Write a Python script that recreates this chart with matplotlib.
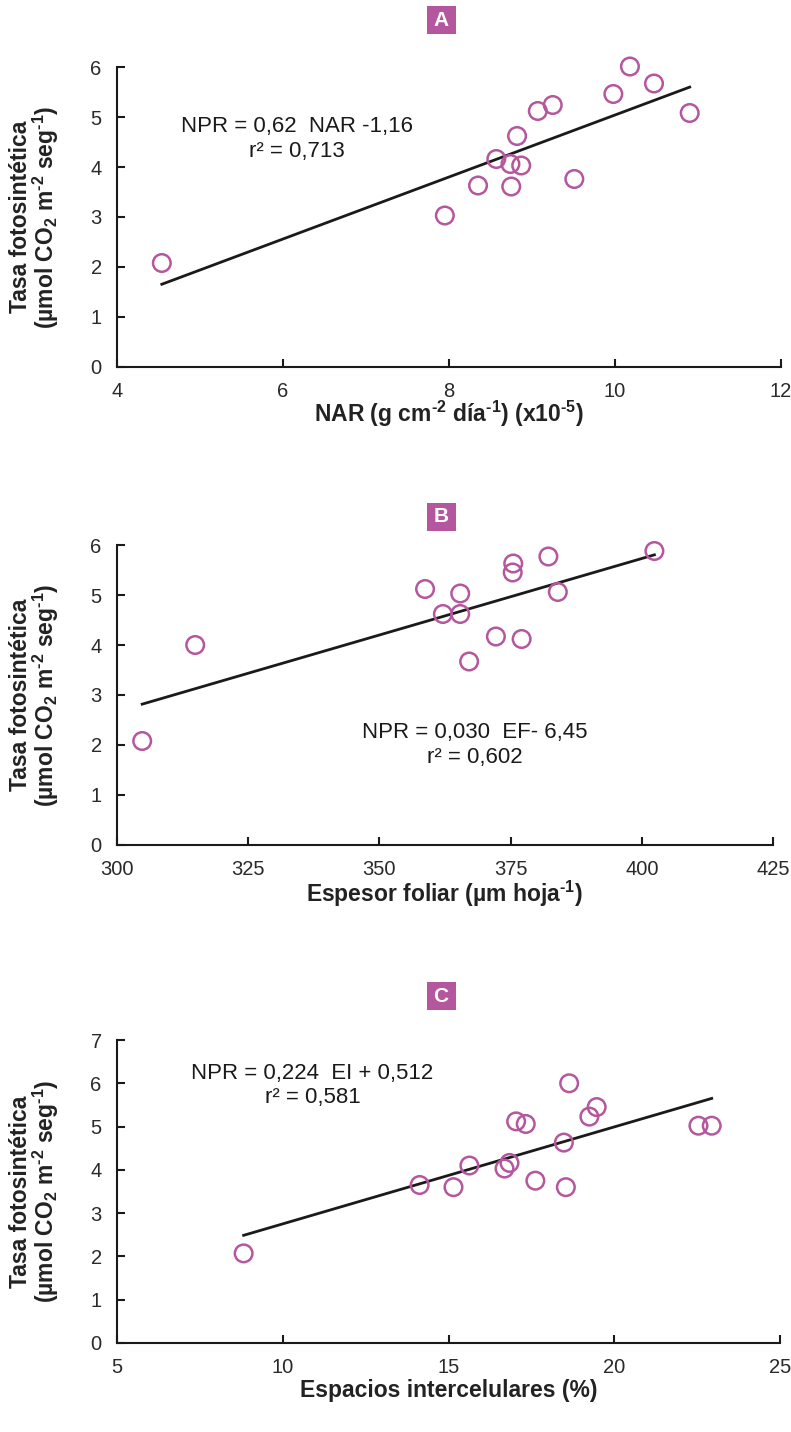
import matplotlib
matplotlib.use('Agg')
import matplotlib.pyplot as plt
from matplotlib import font_manager
from matplotlib.patches import Rectangle
import numpy as np

# --- datos ---
nar = [4.54, 7.95, 8.35, 8.57, 8.74, 8.75, 8.87, 8.82, 9.07, 9.25, 9.51, 9.98, 10.18, 10.47, 10.90]
npr_a = [2.08, 3.03, 3.63, 4.16, 4.06, 3.61, 4.03, 4.62, 5.12, 5.24, 3.76, 5.46, 6.01, 5.67, 5.08]

espesor = [304.8, 314.9, 358.7, 362.1, 365.4, 365.4, 367.1, 372.2, 375.4, 375.5, 377.1, 382.2, 384.0, 402.4]
npr_b = [2.08, 4.00, 5.12, 4.62, 5.03, 4.62, 3.67, 4.17, 5.45, 5.63, 4.12, 5.77, 5.06, 5.88]

espacios = [8.82, 14.13, 15.15, 15.63, 16.69, 16.84, 17.04, 17.33, 17.62, 18.48, 18.54, 18.64, 19.25, 19.47, 22.54, 22.94]
npr_c = [2.07, 3.65, 3.60, 4.10, 4.03, 4.16, 5.12, 5.06, 3.75, 4.63, 3.60, 6.00, 5.23, 5.45, 5.02, 5.02]

pendientes = [0.62, 0.0306, 0.224]
interceptos = [-1.16, -6.51, 0.512]

ecuaciones = ['NPR = 0,62  NAR -1,16\nr² = 0,713',
              'NPR = 0,030  EF- 6,45\nr² = 0,602',
              'NPR = 0,224  EI + 0,512\nr² = 0,581']
letras = ['A', 'B', 'C']
xticks_a = [4, 6, 8, 10, 12]
xticks_b = [300, 325, 350, 375, 400, 425]
xticks_c = [5, 10, 15, 20, 25]
yticks_ab = [0, 1, 2, 3, 4, 5, 6]
yticks_c = [0, 1, 2, 3, 4, 5, 6, 7]

xlabels = [r'NAR (g cm$^{\mathbf{\text{-2}}}$ día$^{\mathbf{\text{-1}}}$) (x10$^{\mathbf{\text{-5}}}$)',
           r'Espesor foliar (µm hoja$^{\mathbf{\text{-1}}}$)',
           'Espacios intercelulares (%)']
ylabel = ('Tasa fotosintética\n'
          + r'(µmol CO$_{\mathbf{2}}$ m$^{\mathbf{\text{-2}}}$ seg$^{\mathbf{\text{-1}}}$)')

morado = '#b5579e'

plt.rcParams['font.family'] = ['Liberation Sans', 'DejaVu Sans']
plt.rcParams['mathtext.fontset'] = 'custom'
plt.rcParams['mathtext.rm'] = 'Liberation Sans:bold'
plt.rcParams['mathtext.bf'] = 'Liberation Sans:bold'
plt.rcParams['mathtext.it'] = 'Liberation Sans:bold'

nombres = {f.name for f in font_manager.fontManager.ttflist}
fuente_eq = 'Liberation Sans Narrow' if 'Liberation Sans Narrow' in nombres else 'Liberation Sans'
tam_eq = 17 if fuente_eq == 'Liberation Sans Narrow' else 16

W, H = 791, 1432
fig = plt.figure(figsize=(W / 100, H / 100), dpi=100)


def caja(px_left, px_right, px_top, px_bottom):
    return [px_left / W, 1 - px_bottom / H, (px_right - px_left) / W, (px_bottom - px_top) / H]


paneles = [
    dict(x=nar, y=npr_a, box=caja(117, 781, 67, 367), xlim=(4, 12), ylim=(0, 6),
         xt=xticks_a, yt=yticks_ab, eq=(6.17, 4.56), letra_y=20, xlab_y=414),
    dict(x=espesor, y=npr_b, box=caja(117, 773, 545, 845), xlim=(300, 425), ylim=(0, 6),
         xt=xticks_b, yt=yticks_ab, eq=(368.2, 2.0), letra_y=517, xlab_y=894),
    dict(x=espacios, y=npr_c, box=caja(117, 780, 1040, 1343), xlim=(5, 25), ylim=(0, 7),
         xt=xticks_c, yt=yticks_c, eq=(10.9, 5.94), letra_y=996, xlab_y=1391),
]

for i, p in enumerate(paneles):
    ax = fig.add_axes(p['box'])
    ax.scatter(p['x'], p['y'], s=160, facecolors='none', edgecolors=morado,
               linewidths=1.8, zorder=3, clip_on=False)
    xs = np.array([min(p['x']), max(p['x'])])
    ax.plot(xs, pendientes[i] * xs + interceptos[i], color='#1a1a1a', lw=2, zorder=2)

    ax.set_xlim(*p['xlim'])
    ax.set_ylim(*p['ylim'])
    ax.set_xticks(p['xt'])
    ax.set_yticks(p['yt'])
    ax.spines['top'].set_visible(False)
    ax.spines['right'].set_visible(False)
    for s in ['left', 'bottom']:
        ax.spines[s].set_linewidth(1.5)
        ax.spines[s].set_color('#1a1a1a')
    ax.tick_params(direction='in', length=6, width=1.5, labelsize=14.5,
                   colors='#1a1a1a', labelcolor='#2a2a2a')
    ax.tick_params(axis='y', pad=11)
    ax.tick_params(axis='x', pad=11)

    ax.text(p['eq'][0], p['eq'][1], ecuaciones[i], ha='center', va='center',
            multialignment='center', fontsize=tam_eq, family=fuente_eq,
            linespacing=1.2, color='#1a1a1a')

    # letra del panel
    fig.patches.append(Rectangle(((441 - 14.5) / W, 1 - (p['letra_y'] + 14) / H), 29 / W, 28 / H,
                                 transform=fig.transFigure, facecolor=morado, edgecolor='none'))
    fig.text(441 / W, 1 - p['letra_y'] / H, letras[i], ha='center', va='center',
             color='white', fontsize=15, fontweight='bold')

    cx = (p['box'][0] + p['box'][2] / 2)
    fig.text(cx, 1 - p['xlab_y'] / H, xlabels[i], ha='center', va='center',
             fontsize=16.5, fontweight='bold', color='#222222')
    cy = p['box'][1] + p['box'][3] / 2
    fig.text(35 / W, cy, ylabel, rotation=90, ha='center', va='center',
             multialignment='center', fontsize=16.5, fontweight='bold',
             linespacing=0.92, color='#222222')

fig.savefig('out.png', dpi=100)
